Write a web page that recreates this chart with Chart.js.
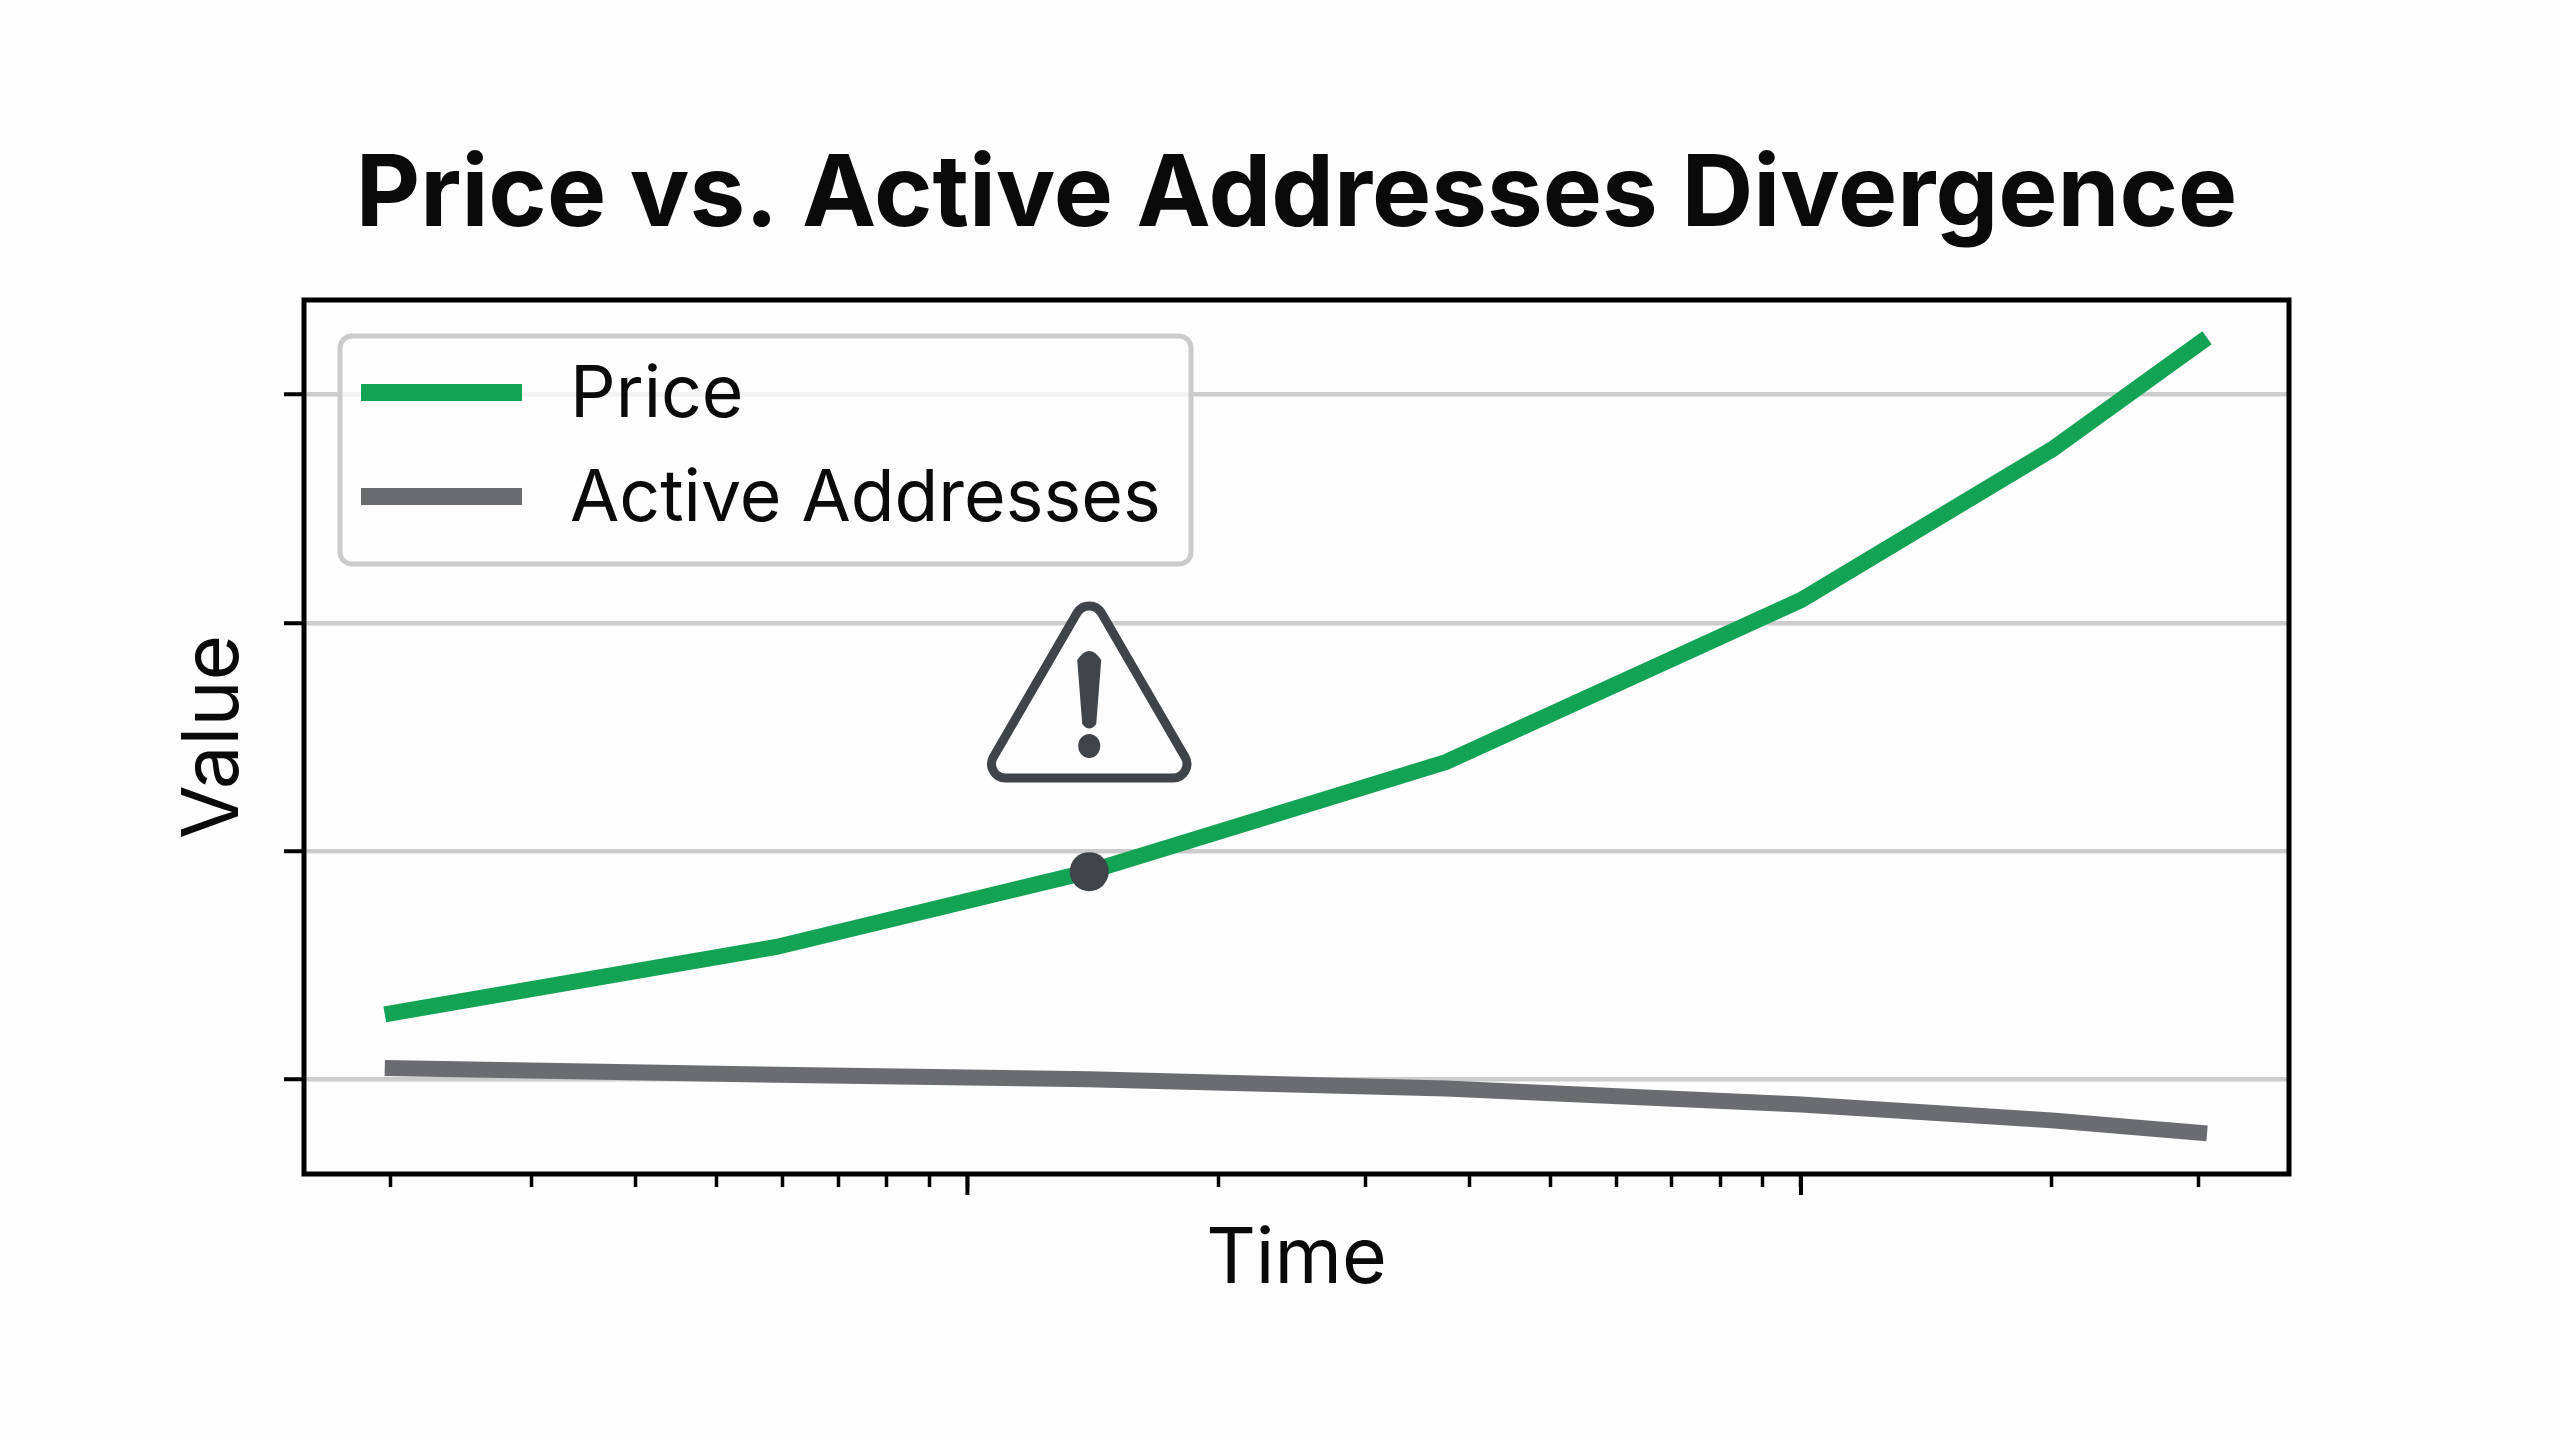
<!DOCTYPE html>
<html>
<head>
<meta charset="utf-8">
<title>Price vs. Active Addresses Divergence</title>
<script src="https://cdn.jsdelivr.net/npm/chart.js@4"></script>
<style>
  html, body { margin: 0; background: #fdfdfd; }
  canvas { display: block; }
</style>
</head>
<body>
<canvas id="divergenceChart" width="2560" height="1440"></canvas>
<script>
const timeValues = [2, 5.9, 14, 37.5, 100, 200, 307];
const priceValues = [1.285, 1.58, 1.91, 2.39, 3.10, 3.76, 4.25];
const addressValues = [1.05, 1.02, 1.00, 0.96, 0.89, 0.82, 0.763];
const xTicks = [2.03, 3, 4, 5, 6, 7, 8, 9, 10, 20, 30, 40, 50, 60, 70, 80, 90, 100, 200, 300];
const xMajorTicks = [10, 100];
const yTicks = [1, 2, 3, 4];
const markerIndex = 2;

const INK = '#3f444a';
const PAPER = '#fdfdfd';

// frame, long ticks, warning sign and legend go on top of the lines
const overlay = {
    id: 'overlay',
    afterDatasetsDraw(chart) {
        const { ctx, chartArea: a, scales } = chart;
        ctx.save();

        ctx.strokeStyle = '#000';
        ctx.lineWidth = 5;
        ctx.strokeRect(a.left, a.top, a.right - a.left, a.bottom - a.top);

        ctx.lineWidth = 4;
        xMajorTicks.forEach(v => {
            const x = scales.x.getPixelForValue(v);
            ctx.beginPath();
            ctx.moveTo(x, a.bottom);
            ctx.lineTo(x, a.bottom + 21);
            ctx.stroke();
        });

        // warning sign above the marker
        const cx = scales.x.getPixelForValue(timeValues[markerIndex]);
        const top = 592, base = 778, half = 108, r = 14;
        ctx.strokeStyle = INK;
        ctx.lineWidth = 9;
        ctx.lineJoin = 'round';
        ctx.beginPath();
        ctx.moveTo(cx, base);
        ctx.arcTo(cx + half, base, cx, top, r);
        ctx.arcTo(cx, top, cx - half, base, r);
        ctx.arcTo(cx - half, base, cx, base, r);
        ctx.closePath();
        ctx.fillStyle = PAPER;
        ctx.fill();
        ctx.stroke();
        ctx.fillStyle = INK;
        ctx.beginPath();
        ctx.moveTo(cx - 12, 660);
        ctx.quadraticCurveTo(cx, 642, cx + 12, 660);
        ctx.lineTo(cx + 7, 724);
        ctx.quadraticCurveTo(cx, 733, cx - 7, 724);
        ctx.closePath();
        ctx.fill();
        ctx.beginPath();
        ctx.ellipse(cx, 746, 11, 12, 0, 0, Math.PI * 2);
        ctx.fill();

        // legend box
        ctx.beginPath();
        ctx.roundRect(340, 336, 851, 228, 12);
        ctx.fillStyle = 'rgba(253,253,253,0.8)';
        ctx.fill();
        ctx.strokeStyle = '#cbcbcb';
        ctx.lineWidth = 5;
        ctx.stroke();

        ctx.textBaseline = 'middle';
        ctx.font = '71.5px Inter';
        chart.data.datasets.forEach((ds, i) => {
            const y = 392 + i * 104;
            ctx.fillStyle = ds.borderColor;
            ctx.fillRect(361, y - 8, 161, 17);
            ctx.fillStyle = '#0a0a0a';
            ctx.fillText(ds.label, 570, y + 3);
        });
        ctx.restore();
    }
};

new Chart(document.getElementById('divergenceChart'), {
    type: 'line',
    data: {
        datasets: [
            {
                label: 'Price',
                data: timeValues.map((t, i) => ({ x: t, y: priceValues[i] })),
                borderColor: '#12a354',
                borderWidth: 16,
                tension: 0,
                pointRadius: ctx => ctx.dataIndex === markerIndex ? 19.5 : 0,
                pointBackgroundColor: INK,
                pointBorderWidth: 0
            },
            {
                label: 'Active Addresses',
                data: timeValues.map((t, i) => ({ x: t, y: addressValues[i] })),
                borderColor: '#6b6c6f',
                borderWidth: 16,
                tension: 0,
                pointRadius: 0
            }
        ]
    },
    options: {
        responsive: false,
        animation: false,
        devicePixelRatio: 1,
        layout: { padding: { top: 0, right: 271, bottom: 0, left: 0 } },
        plugins: {
            legend: { display: false },
            tooltip: { enabled: false },
            title: {
                display: true,
                text: 'Price vs. Active Addresses Divergence',
                color: '#0a0a0a',
                fullSize: false,
                font: { family: 'Inter', size: 99.5, weight: '700', lineHeight: 1.2 },
                padding: { top: 136, bottom: 44.6 }
            }
        },
        scales: {
            x: {
                type: 'logarithmic',
                min: 1.6,
                max: 385,
                afterBuildTicks: s => { s.ticks = xTicks.map(value => ({ value })); },
                afterFit: s => { s.height = 266; },
                ticks: { display: false, autoSkip: false },
                border: { display: false },
                grid: { drawOnChartArea: false, tickLength: 13, tickColor: '#000', tickWidth: 3.5 },
                title: {
                    display: true,
                    text: 'Time',
                    color: '#0a0a0a',
                    font: { family: 'Inter', size: 77, lineHeight: 1.2 },
                    padding: { top: 0, bottom: 134 }
                }
            },
            y: {
                min: 0.585,
                max: 4.415,
                afterBuildTicks: s => { s.ticks = yTicks.map(value => ({ value })); },
                afterFit: s => { s.width = 304; },
                ticks: { display: false },
                border: { display: false },
                grid: { color: '#cccccc', lineWidth: 4.5, tickLength: 20, tickColor: '#000', tickWidth: 4 },
                title: {
                    display: true,
                    text: 'Value',
                    color: '#0a0a0a',
                    font: { family: 'Inter', size: 78, lineHeight: 1.2 },
                    padding: { top: 168, bottom: 0 }
                }
            }
        }
    },
    plugins: [overlay]
});
</script>
</body>
</html>
